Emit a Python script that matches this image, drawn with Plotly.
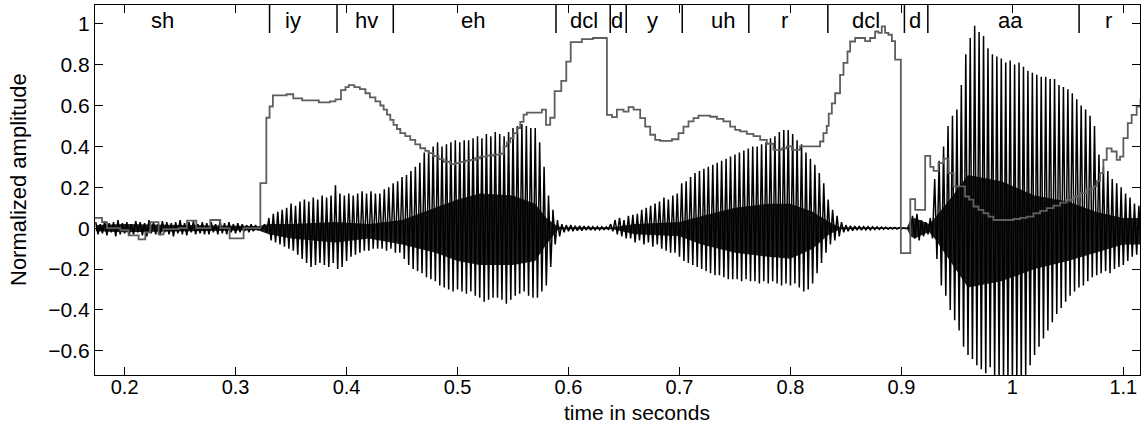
import plotly.graph_objects as go

# ---------------- data ----------------
# phoneme segmentation (boundary times in s) and labels
boundaries = [0.3306, 0.3914, 0.4421, 0.5887, 0.6376, 0.6520, 0.7025,
              0.7625, 0.8337, 0.9027, 0.9238, 1.0601]
phones = ['sh', 'iy', 'hv', 'eh', 'dcl', 'd', 'y', 'uh', 'r', 'dcl', 'd', 'aa', 'r']
phone_t = [0.2337, 0.352, 0.4184, 0.5139, 0.6141, 0.6441, 0.676, 0.7391,
           0.7943, 0.8682, 0.9123, 0.9986, 1.0865]

# waveform: positive / negative peak per 4 ms frame starting at 0.174 s
WAVE_T0 = 0.174
WAVE_DT = 0.004
wave_upper = [
    0.03, 0.02, 0.035, 0.025, 0.03, 0.04, 0.025, 0.03, 0.02, 0.035, 0.03, 0.025, 0.04, 0.03, 0.02, 0.035, 0.03, 0.025, 0.03, 0.04, 0.025, 0.03, 0.035, 0.02, 0.03,
    0.025, 0.03, 0.02, 0.035, 0.025, 0.03, 0.02, 0.025, 0.02, 0.015, 0.02, 0.015, 0.01, 0.02, 0.05, 0.07, 0.08, 0.09, 0.10, 0.12, 0.11, 0.13, 0.14, 0.13, 0.15,
    0.14, 0.16, 0.15, 0.16, 0.21, 0.17, 0.16, 0.17, 0.16, 0.17, 0.18, 0.17, 0.18, 0.17, 0.17, 0.19, 0.20, 0.22, 0.23, 0.25, 0.26, 0.28, 0.30, 0.32, 0.37,
    0.38, 0.40, 0.42, 0.40, 0.41, 0.42, 0.43, 0.42, 0.43, 0.43, 0.44, 0.45, 0.44, 0.46, 0.45, 0.47, 0.46, 0.45, 0.47, 0.49, 0.50, 0.51, 0.50, 0.49, 0.49,
    0.42, 0.30, 0.16, 0.09, 0.04, 0.02, 0.015, 0.015, 0.012, 0.012, 0.01, 0.01, 0.008, 0.008, 0.007, 0.006, 0.02, 0.04, 0.05, 0.04, 0.06, 0.065, 0.07, 0.09, 0.10,
    0.11, 0.12, 0.13, 0.15, 0.14, 0.16, 0.17, 0.22, 0.23, 0.25, 0.27, 0.28, 0.29, 0.30, 0.31, 0.32, 0.33, 0.34, 0.35, 0.36, 0.37, 0.38, 0.39, 0.40, 0.40,
    0.41, 0.42, 0.44, 0.45, 0.47, 0.48, 0.48, 0.46, 0.43, 0.41, 0.37, 0.34, 0.31, 0.27, 0.22, 0.14, 0.09, 0.06, 0.03, 0.015, 0.012, 0.01, 0.01, 0.008, 0.008,
    0.007, 0.006, 0.005, 0.005, 0.004, 0.004, 0.003, 0.002, 0.002, 0.06, 0.07, 0.04, 0.03, 0.05, 0.24, 0.33, 0.40, 0.50, 0.55, 0.58, 0.70, 0.85, 0.93, 0.99, 0.96,
    0.94, 0.88, 0.85, 0.84, 0.83, 0.81, 0.82, 0.80, 0.81, 0.79, 0.77, 0.76, 0.75, 0.74, 0.74, 0.73, 0.73, 0.70, 0.69, 0.68, 0.66, 0.63, 0.60, 0.58, 0.55,
    0.50, 0.36, 0.30, 0.28, 0.24, 0.22, 0.20, 0.17, 0.15, 0.12, 0.11]
wave_lower = [
    -0.03, -0.025, -0.035, -0.02, -0.04, -0.03, -0.025, -0.035, -0.03, -0.02, -0.035, -0.04, -0.025, -0.03, -0.035, -0.02, -0.03, -0.04, -0.025, -0.03, -0.035, -0.02, -0.03, -0.025, -0.03,
    -0.03, -0.02, -0.03, -0.025, -0.03, -0.02, -0.025, -0.02, -0.015, -0.02, -0.015, -0.01, -0.01, -0.02, -0.06, -0.07, -0.08, -0.09, -0.10, -0.11, -0.13, -0.15, -0.17, -0.19, -0.18,
    -0.17, -0.18, -0.19, -0.17, -0.20, -0.19, -0.16, -0.14, -0.13, -0.12, -0.11, -0.11, -0.10, -0.10, -0.10, -0.11, -0.10, -0.12, -0.12, -0.15, -0.18, -0.20, -0.21, -0.22, -0.24,
    -0.25, -0.26, -0.28, -0.29, -0.30, -0.31, -0.30, -0.31, -0.32, -0.31, -0.33, -0.34, -0.36, -0.35, -0.34, -0.34, -0.35, -0.37, -0.35, -0.33, -0.32, -0.31, -0.33, -0.34, -0.34,
    -0.31, -0.28, -0.19, -0.08, -0.04, -0.02, -0.015, -0.015, -0.012, -0.012, -0.01, -0.01, -0.008, -0.008, -0.007, -0.006, -0.015, -0.03, -0.04, -0.05, -0.05, -0.07, -0.06, -0.08, -0.07,
    -0.09, -0.08, -0.10, -0.11, -0.12, -0.12, -0.14, -0.16, -0.17, -0.18, -0.19, -0.20, -0.21, -0.22, -0.23, -0.23, -0.24, -0.25, -0.25, -0.25, -0.26, -0.25, -0.26, -0.26, -0.27,
    -0.26, -0.27, -0.26, -0.27, -0.28, -0.27, -0.28, -0.27, -0.29, -0.31, -0.30, -0.27, -0.22, -0.17, -0.12, -0.08, -0.06, -0.04, -0.02, -0.015, -0.012, -0.01, -0.01, -0.008, -0.008,
    -0.007, -0.006, -0.005, -0.005, -0.004, -0.004, -0.003, -0.002, -0.002, -0.05, -0.06, -0.04, -0.03, -0.05, -0.15, -0.28, -0.33, -0.40, -0.45, -0.50, -0.58, -0.62, -0.64, -0.67, -0.69,
    -0.71, -0.68, -0.72, -0.74, -0.75, -0.74, -0.76, -0.75, -0.74, -0.72, -0.67, -0.62, -0.58, -0.54, -0.50, -0.46, -0.42, -0.39, -0.36, -0.33, -0.31, -0.29, -0.28, -0.26, -0.24,
    -0.23, -0.22, -0.21, -0.22, -0.20, -0.19, -0.18, -0.16, -0.14, -0.13, -0.12]

# dense core of the waveform (inner oscillations), keypoints
core_t = [0.174, 0.20, 0.25, 0.32, 0.33, 0.35, 0.39, 0.42, 0.45, 0.48,
          0.50, 0.52, 0.55, 0.57, 0.58, 0.59, 0.595, 0.64, 0.66, 0.70,
          0.72, 0.75, 0.78, 0.80, 0.82, 0.835, 0.845, 0.905, 0.908, 0.912,
          0.92, 0.925, 0.93, 0.945, 0.96, 0.99, 1.02, 1.05, 1.075, 1.10, 1.115]
core_hi = [0.015, 0.02, 0.015, 0.01, 0.02, 0.02, 0.03, 0.02, 0.04, 0.10,
           0.14, 0.17, 0.16, 0.12, 0.05, 0.01, 0.005, 0.005, 0.02, 0.03,
           0.06, 0.10, 0.12, 0.12, 0.08, 0.03, 0.005, 0.003, 0.04, 0.05,
           0.03, 0.02, 0.05, 0.15, 0.26, 0.23, 0.16, 0.13, 0.08, 0.05, 0.05]
core_lo = [-0.015, -0.02, -0.015, -0.01, -0.03, -0.05, -0.07, -0.05, -0.08, -0.12,
           -0.16, -0.18, -0.18, -0.16, -0.08, -0.01, -0.005, -0.005, -0.03, -0.04,
           -0.08, -0.12, -0.14, -0.15, -0.10, -0.03, -0.005, -0.003, -0.04, -0.05,
           -0.03, -0.02, -0.05, -0.17, -0.29, -0.26, -0.20, -0.16, -0.12, -0.08, -0.08]

# grey stepped contour: step start time and level
gray_t = [0.170, 0.1796, 0.1841, 0.1961, 0.2036, 0.2126, 0.2186, 0.2232, 0.2306, 0.2351,
          0.2486, 0.2562, 0.2646, 0.2772, 0.2862, 0.2946, 0.3072, 0.3223, 0.3277, 0.3306,
          0.3336, 0.346, 0.352, 0.36, 0.375, 0.385, 0.39, 0.395, 0.399, 0.402,
          0.407, 0.412, 0.417, 0.421, 0.426, 0.4304, 0.4334, 0.4364, 0.4394, 0.4423,
          0.4454, 0.4484, 0.4529, 0.4574, 0.4619, 0.4664, 0.4709, 0.4739, 0.4784, 0.4829,
          0.4874, 0.4934, 0.4979, 0.5024, 0.507, 0.5114, 0.516, 0.5204, 0.5264, 0.5324,
          0.5385, 0.5414, 0.5445, 0.5475, 0.5505, 0.5535, 0.5565, 0.5595, 0.5625, 0.576,
          0.5797, 0.5835, 0.5875, 0.5935, 0.598, 0.602, 0.612, 0.622, 0.6346, 0.6391,
          0.6436, 0.6496, 0.6541, 0.6586, 0.6646, 0.6691, 0.6736, 0.6781, 0.6826, 0.6932,
          0.6991, 0.7036, 0.7081, 0.7126, 0.7171, 0.7277, 0.7337, 0.7396, 0.7457, 0.7502,
          0.7547, 0.7607, 0.7667, 0.7727, 0.7787, 0.7847, 0.7922, 0.7967, 0.8013, 0.8087,
          0.8267, 0.8297, 0.8327, 0.8345, 0.8373, 0.8403, 0.8447, 0.8478, 0.8514, 0.8538,
          0.8583, 0.8673, 0.8718, 0.8763, 0.8793, 0.8823, 0.8853, 0.8883, 0.8914, 0.8943,
          0.8995, 0.908, 0.9124, 0.9214, 0.926, 0.929, 0.9334, 0.938, 0.9424, 0.947,
          0.9574, 0.961, 0.9649, 0.9694, 0.9739, 0.9784, 0.9829, 1.001, 1.007, 1.013,
          1.019, 1.025, 1.031, 1.037, 1.043, 1.049, 1.055, 1.061, 1.067, 1.073,
          1.076, 1.079, 1.082, 1.085, 1.0894, 1.094, 1.097, 1.1, 1.104, 1.1075,
          1.112, 1.1155, 1.12]
gray_v = [0.05, 0.03, 0.0, -0.01, -0.035, -0.055, -0.02, 0.03, -0.03, -0.005,
          0.0, 0.037, 0.0, 0.04, 0.0, -0.05, 0.0, 0.22, 0.54, 0.595,
          0.65, 0.655, 0.635, 0.625, 0.615, 0.62, 0.63, 0.675, 0.69, 0.70,
          0.69, 0.68, 0.66, 0.64, 0.62, 0.60, 0.58, 0.555, 0.53, 0.505,
          0.485, 0.465, 0.45, 0.432, 0.41, 0.391, 0.378, 0.367, 0.352, 0.338,
          0.325, 0.313, 0.318, 0.324, 0.33, 0.334, 0.342, 0.350, 0.355, 0.360,
          0.364, 0.40, 0.42, 0.44, 0.465, 0.49, 0.52, 0.555, 0.565, 0.58,
          0.505, 0.54, 0.67, 0.72, 0.815, 0.91, 0.925, 0.93, 0.554, 0.543,
          0.58, 0.57, 0.592, 0.58, 0.538, 0.497, 0.457, 0.432, 0.427, 0.435,
          0.465, 0.497, 0.522, 0.538, 0.55, 0.545, 0.535, 0.522, 0.497, 0.481,
          0.473, 0.461, 0.45, 0.432, 0.413, 0.383, 0.39, 0.40, 0.383, 0.40,
          0.424, 0.465, 0.50, 0.56, 0.61, 0.66, 0.75, 0.808, 0.864, 0.913,
          0.93, 0.915, 0.93, 0.962, 0.955, 0.987, 0.955, 0.946, 0.915, 0.824,
          -0.122, 0.142, 0.09, 0.354, 0.30, 0.28, 0.318, 0.34, 0.269, 0.204,
          0.155, 0.14, 0.106, 0.09, 0.073, 0.057, 0.04, 0.045, 0.05, 0.057,
          0.073, 0.085, 0.098, 0.11, 0.125, 0.138, 0.155, 0.171, 0.19, 0.204,
          0.23, 0.269, 0.334, 0.39, 0.375, 0.334, 0.35, 0.44, 0.514, 0.554,
          0.595, 0.628, 0.628]

x_ticks = [0.2, 0.3, 0.4, 0.5, 0.6, 0.7, 0.8, 0.9, 1.0, 1.1]
x_ticktext = ['0.2', '0.3', '0.4', '0.5', '0.6', '0.7', '0.8', '0.9', '1', '1.1']
y_ticks = [-0.6, -0.4, -0.2, 0, 0.2, 0.4, 0.6, 0.8, 1.0]
y_ticktext = ['\u22120.6', '\u22120.4', '\u22120.2', '0', '0.2', '0.4', '0.6', '0.8', '1']

# ---------------- figure ----------------
FONT = 'Liberation Sans, Arial, Helvetica, sans-serif'
fig = go.Figure()

fig.add_trace(go.Scatter(
    x=core_t + core_t[::-1], y=core_hi + core_lo[::-1],
    fill='toself', fillcolor='rgba(0,0,0,0.88)', mode='lines',
    line=dict(width=0, color='black'), hoverinfo='skip', showlegend=False))

wave_x, wave_y = [], []
for i, (u, l) in enumerate(zip(wave_upper, wave_lower)):
    t = WAVE_T0 + i * WAVE_DT
    wave_x += [t, t + WAVE_DT / 2]
    wave_y += [u, l]
fig.add_trace(go.Scatter(x=wave_x, y=wave_y, mode='lines',
                         line=dict(color='black', width=1.5),
                         showlegend=False, name='waveform'))

fig.add_trace(go.Scatter(x=gray_t, y=gray_v, mode='lines',
                         line=dict(color='#5e5e5e', width=1.8, shape='hv'),
                         showlegend=False, name='contour'))

PLOT_H = 370.0
shapes = []
for b in boundaries:
    shapes.append(dict(type='line', xref='x', yref='paper', x0=b, x1=b,
                       y0=1, y1=1 - 28 / PLOT_H,
                       line=dict(color='black', width=1.5)))

annotations = []
for lab, t in zip(phones, phone_t):
    annotations.append(dict(text=lab, x=t, xref='x', y=1 - 15 / PLOT_H, yref='paper',
                            showarrow=False, xanchor='center', yanchor='middle',
                            font=dict(family=FONT, size=22, color='black')))
annotations.append(dict(text='time in seconds', x=(637 - 95) / 1045, xref='paper',
                        y=(375 - 412) / PLOT_H, yref='paper', showarrow=False,
                        xanchor='center', yanchor='middle',
                        font=dict(family=FONT, size=21, color='black')))
annotations.append(dict(text='Normalized amplitude', x=(18 - 95) / 1045, xref='paper',
                        y=(375 - 180) / PLOT_H, yref='paper', showarrow=False,
                        textangle=-90, xanchor='center', yanchor='middle',
                        font=dict(family=FONT, size=22, color='black')))

fig.update_layout(
    width=1141, height=424,
    margin=dict(l=95, r=1, t=5, b=49),
    paper_bgcolor='white', plot_bgcolor='white',
    font=dict(family=FONT, size=21, color='black'),
    shapes=shapes, annotations=annotations, showlegend=False,
    xaxis=dict(range=[0.1733, 1.115], tickvals=x_ticks, ticktext=x_ticktext,
               ticks='inside', ticklen=8, tickwidth=1, tickcolor='black',
               showline=True, linecolor='black', linewidth=1.3, mirror='ticks',
               showgrid=False, zeroline=False, ticklabelstandoff=-6,
               tickfont=dict(family=FONT, size=20, color='black')),
    yaxis=dict(range=[-0.718, 1.0915], tickvals=y_ticks, ticktext=y_ticktext,
               ticks='inside', ticklen=8, tickwidth=1, tickcolor='black',
               showline=True, linecolor='black', linewidth=1.3, mirror='ticks',
               showgrid=False, zeroline=False,
               tickfont=dict(family=FONT, size=21, color='black')),
)

fig.write_html('out.html',
               config={'displayModeBar': False},
               post_script="document.body.style.margin='0';"
                           "document.body.style.overflow='hidden';")
